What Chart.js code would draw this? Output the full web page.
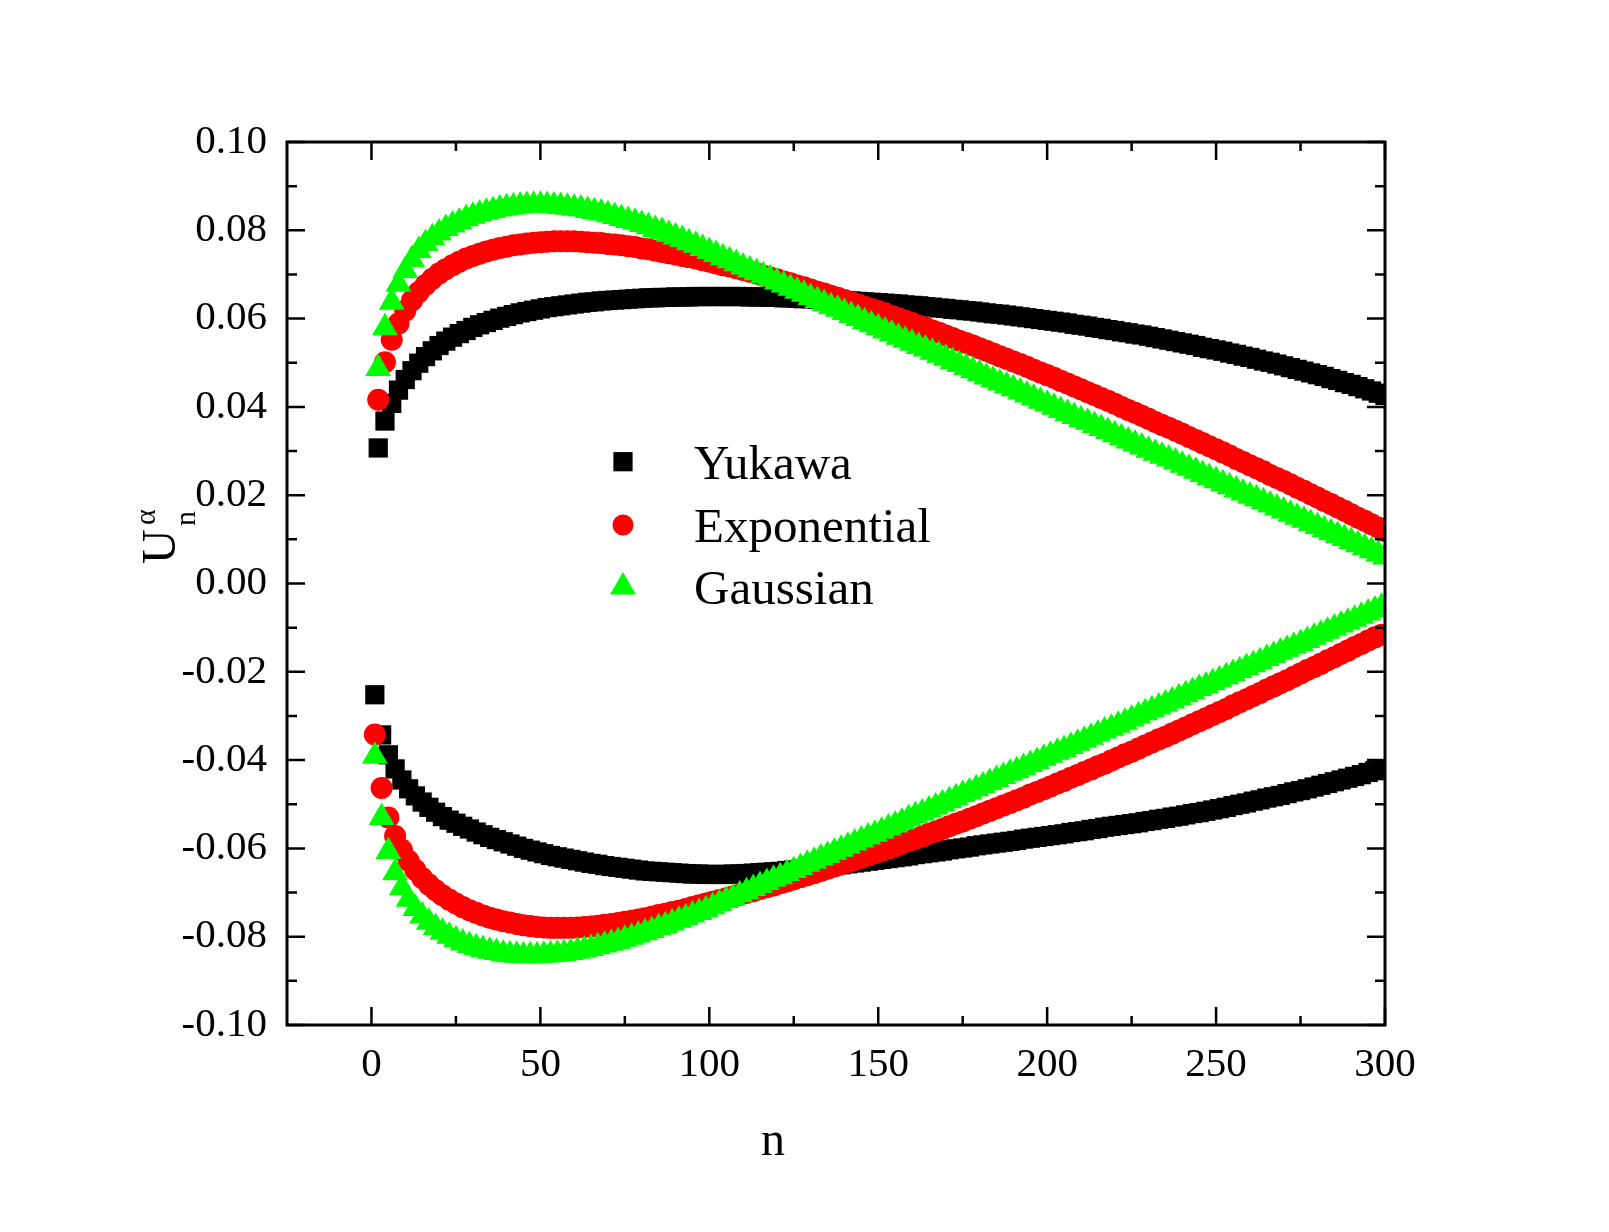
<!DOCTYPE html>
<html>
<head>
<meta charset="utf-8">
<script src="https://cdn.jsdelivr.net/npm/chart.js@4.4.0/dist/chart.umd.min.js"></script>
<style>
  html, body { margin: 0; padding: 0; background: #ffffff; }
  #wrap { width: 1609px; height: 1232px; }
</style>
</head>
<body>
<div id="wrap"><canvas id="c" width="1609" height="1232"></canvas></div>
<script>
// ---------------- data ----------------
const seriesNames = ['Yukawa', 'Exponential', 'Gaussian'];

// upper branch: even n = 2,4,...,300 ; lower branch: odd n = 1,3,...,299
const yukawaUpper = [
0.0307,0.0368,0.0408,0.0438,0.0462,0.0482,0.0499,0.0514,0.0527,0.0539,
0.0549,0.0558,0.0566,0.0573,0.0580,0.0586,0.0591,0.0596,0.0601,0.0605,
0.0609,0.0613,0.0616,0.0619,0.0622,0.0625,0.0627,0.0629,0.0631,0.0633,
0.0635,0.0637,0.0638,0.0640,0.0641,0.0642,0.0643,0.0644,0.0645,0.0646,
0.0647,0.0647,0.0648,0.0648,0.0649,0.0649,0.0649,0.0650,0.0650,0.0650,
0.0650,0.0650,0.0650,0.0650,0.0650,0.0649,0.0649,0.0649,0.0648,0.0648,
0.0647,0.0647,0.0646,0.0645,0.0645,0.0644,0.0643,0.0642,0.0642,0.0641,
0.0640,0.0639,0.0638,0.0637,0.0636,0.0635,0.0634,0.0633,0.0631,0.0630,
0.0629,0.0627,0.0626,0.0624,0.0623,0.0621,0.0620,0.0618,0.0617,0.0615,
0.0613,0.0611,0.0610,0.0608,0.0606,0.0604,0.0602,0.0600,0.0598,0.0596,
0.0594,0.0592,0.0590,0.0587,0.0585,0.0583,0.0580,0.0578,0.0575,0.0573,
0.0570,0.0568,0.0565,0.0563,0.0560,0.0557,0.0554,0.0551,0.0548,0.0545,
0.0542,0.0539,0.0535,0.0532,0.0529,0.0526,0.0522,0.0519,0.0515,0.0512,
0.0508,0.0504,0.0501,0.0497,0.0493,0.0489,0.0485,0.0481,0.0477,0.0473,
0.0469,0.0464,0.0460,0.0455,0.0451,0.0446,0.0441,0.0436,0.0431,0.0426];

const yukawaLower = [
-0.0252,-0.0343,-0.0388,-0.0420,-0.0445,-0.0465,-0.0481,-0.0495,-0.0507,-0.0518,
-0.0528,-0.0536,-0.0543,-0.0550,-0.0556,-0.0563,-0.0569,-0.0575,-0.0580,-0.0585,
-0.0590,-0.0595,-0.0600,-0.0604,-0.0608,-0.0612,-0.0616,-0.0619,-0.0622,-0.0625,
-0.0628,-0.0631,-0.0634,-0.0636,-0.0639,-0.0641,-0.0643,-0.0645,-0.0647,-0.0649,
-0.0651,-0.0652,-0.0653,-0.0654,-0.0655,-0.0656,-0.0657,-0.0658,-0.0658,-0.0659,
-0.0659,-0.0659,-0.0659,-0.0658,-0.0658,-0.0657,-0.0656,-0.0655,-0.0654,-0.0653,
-0.0652,-0.0650,-0.0649,-0.0647,-0.0646,-0.0644,-0.0642,-0.0640,-0.0639,-0.0637,
-0.0635,-0.0633,-0.0631,-0.0629,-0.0627,-0.0625,-0.0623,-0.0621,-0.0619,-0.0617,
-0.0614,-0.0612,-0.0610,-0.0608,-0.0606,-0.0603,-0.0601,-0.0599,-0.0597,-0.0594,
-0.0592,-0.0590,-0.0588,-0.0586,-0.0584,-0.0582,-0.0579,-0.0577,-0.0575,-0.0573,
-0.0571,-0.0569,-0.0567,-0.0564,-0.0562,-0.0560,-0.0557,-0.0555,-0.0552,-0.0550,
-0.0548,-0.0546,-0.0544,-0.0542,-0.0539,-0.0537,-0.0534,-0.0532,-0.0529,-0.0527,
-0.0524,-0.0521,-0.0519,-0.0516,-0.0513,-0.0510,-0.0507,-0.0503,-0.0500,-0.0497,
-0.0493,-0.0490,-0.0486,-0.0483,-0.0480,-0.0476,-0.0472,-0.0469,-0.0465,-0.0461,
-0.0457,-0.0453,-0.0449,-0.0445,-0.0441,-0.0437,-0.0433,-0.0428,-0.0424,-0.0420];

const exponentialUpper = [
0.0416,0.0501,0.0552,0.0589,0.0618,0.0641,0.0660,0.0676,0.0690,0.0702,
0.0712,0.0721,0.0729,0.0736,0.0742,0.0747,0.0752,0.0756,0.0760,0.0763,
0.0766,0.0768,0.0770,0.0772,0.0773,0.0774,0.0775,0.0775,0.0775,0.0775,
0.0774,0.0773,0.0772,0.0771,0.0769,0.0768,0.0766,0.0764,0.0762,0.0759,
0.0757,0.0754,0.0751,0.0748,0.0745,0.0742,0.0739,0.0736,0.0732,0.0729,
0.0725,0.0721,0.0718,0.0714,0.0710,0.0706,0.0702,0.0697,0.0693,0.0689,
0.0684,0.0680,0.0675,0.0671,0.0666,0.0661,0.0657,0.0652,0.0647,0.0642,
0.0637,0.0632,0.0627,0.0622,0.0617,0.0612,0.0606,0.0601,0.0595,0.0590,
0.0584,0.0579,0.0573,0.0568,0.0562,0.0556,0.0550,0.0545,0.0539,0.0533,
0.0527,0.0521,0.0515,0.0509,0.0503,0.0497,0.0491,0.0484,0.0478,0.0472,
0.0466,0.0459,0.0453,0.0446,0.0440,0.0433,0.0427,0.0420,0.0414,0.0407,
0.0400,0.0393,0.0387,0.0380,0.0373,0.0366,0.0359,0.0353,0.0346,0.0339,
0.0332,0.0325,0.0318,0.0311,0.0304,0.0297,0.0290,0.0282,0.0275,0.0268,
0.0261,0.0254,0.0246,0.0239,0.0232,0.0225,0.0217,0.0210,0.0202,0.0195,
0.0187,0.0180,0.0172,0.0165,0.0157,0.0149,0.0142,0.0134,0.0127,0.0119];

const exponentialLower = [
-0.0342,-0.0463,-0.0530,-0.0572,-0.0603,-0.0628,-0.0649,-0.0667,-0.0682,-0.0695,
-0.0706,-0.0716,-0.0725,-0.0733,-0.0740,-0.0746,-0.0752,-0.0757,-0.0761,-0.0765,
-0.0768,-0.0771,-0.0774,-0.0776,-0.0778,-0.0779,-0.0780,-0.0780,-0.0780,-0.0780,
-0.0779,-0.0778,-0.0777,-0.0775,-0.0773,-0.0771,-0.0769,-0.0766,-0.0764,-0.0761,
-0.0758,-0.0755,-0.0751,-0.0748,-0.0744,-0.0741,-0.0737,-0.0733,-0.0729,-0.0725,
-0.0721,-0.0717,-0.0713,-0.0709,-0.0705,-0.0701,-0.0697,-0.0692,-0.0688,-0.0684,
-0.0679,-0.0675,-0.0670,-0.0665,-0.0661,-0.0656,-0.0651,-0.0646,-0.0641,-0.0636,
-0.0631,-0.0626,-0.0621,-0.0616,-0.0611,-0.0606,-0.0600,-0.0595,-0.0589,-0.0584,
-0.0578,-0.0573,-0.0567,-0.0562,-0.0556,-0.0550,-0.0544,-0.0539,-0.0533,-0.0527,
-0.0521,-0.0515,-0.0509,-0.0503,-0.0497,-0.0491,-0.0485,-0.0478,-0.0472,-0.0466,
-0.0460,-0.0453,-0.0447,-0.0440,-0.0434,-0.0427,-0.0421,-0.0414,-0.0408,-0.0401,
-0.0394,-0.0387,-0.0381,-0.0374,-0.0367,-0.0360,-0.0353,-0.0347,-0.0340,-0.0333,
-0.0326,-0.0319,-0.0312,-0.0305,-0.0298,-0.0291,-0.0284,-0.0276,-0.0269,-0.0262,
-0.0255,-0.0248,-0.0240,-0.0233,-0.0226,-0.0219,-0.0211,-0.0204,-0.0196,-0.0189,
-0.0182,-0.0174,-0.0167,-0.0159,-0.0152,-0.0144,-0.0137,-0.0129,-0.0122,-0.0116];

const gaussianUpper = [
0.0487,0.0579,0.0637,0.0678,0.0709,0.0734,0.0754,0.0770,0.0783,0.0794,
0.0804,0.0812,0.0819,0.0826,0.0832,0.0837,0.0841,0.0845,0.0848,0.0851,
0.0853,0.0855,0.0856,0.0857,0.0857,0.0856,0.0855,0.0854,0.0852,0.0850,
0.0848,0.0845,0.0842,0.0839,0.0835,0.0831,0.0827,0.0822,0.0818,0.0813,
0.0808,0.0802,0.0797,0.0791,0.0785,0.0779,0.0772,0.0766,0.0759,0.0752,
0.0745,0.0738,0.0731,0.0724,0.0717,0.0710,0.0704,0.0697,0.0690,0.0683,
0.0676,0.0669,0.0662,0.0655,0.0648,0.0641,0.0634,0.0627,0.0621,0.0614,
0.0607,0.0600,0.0593,0.0586,0.0579,0.0572,0.0565,0.0558,0.0551,0.0544,
0.0537,0.0531,0.0524,0.0517,0.0510,0.0503,0.0496,0.0489,0.0482,0.0475,
0.0468,0.0461,0.0454,0.0448,0.0441,0.0434,0.0427,0.0420,0.0413,0.0406,
0.0399,0.0392,0.0385,0.0378,0.0371,0.0365,0.0358,0.0351,0.0344,0.0337,
0.0330,0.0323,0.0316,0.0309,0.0302,0.0295,0.0288,0.0282,0.0275,0.0268,
0.0261,0.0254,0.0247,0.0240,0.0233,0.0226,0.0219,0.0212,0.0205,0.0198,
0.0192,0.0185,0.0178,0.0171,0.0164,0.0157,0.0150,0.0143,0.0136,0.0129,
0.0122,0.0115,0.0109,0.0102,0.0095,0.0088,0.0081,0.0074,0.0067,0.0060];

const gaussianLower = [
-0.0391,-0.0530,-0.0607,-0.0655,-0.0689,-0.0715,-0.0736,-0.0753,-0.0767,-0.0779,
-0.0790,-0.0799,-0.0807,-0.0814,-0.0820,-0.0825,-0.0829,-0.0833,-0.0836,-0.0839,
-0.0841,-0.0842,-0.0843,-0.0843,-0.0843,-0.0842,-0.0841,-0.0840,-0.0838,-0.0836,
-0.0833,-0.0830,-0.0827,-0.0823,-0.0819,-0.0815,-0.0811,-0.0806,-0.0801,-0.0796,
-0.0791,-0.0786,-0.0780,-0.0775,-0.0769,-0.0763,-0.0757,-0.0751,-0.0745,-0.0739,
-0.0732,-0.0725,-0.0718,-0.0712,-0.0705,-0.0698,-0.0691,-0.0684,-0.0677,-0.0670,
-0.0664,-0.0657,-0.0650,-0.0643,-0.0636,-0.0629,-0.0622,-0.0616,-0.0609,-0.0602,
-0.0595,-0.0588,-0.0581,-0.0574,-0.0568,-0.0561,-0.0554,-0.0547,-0.0540,-0.0533,
-0.0526,-0.0520,-0.0513,-0.0506,-0.0499,-0.0492,-0.0485,-0.0478,-0.0472,-0.0465,
-0.0458,-0.0451,-0.0444,-0.0437,-0.0430,-0.0424,-0.0417,-0.0410,-0.0403,-0.0396,
-0.0389,-0.0382,-0.0376,-0.0369,-0.0362,-0.0355,-0.0348,-0.0341,-0.0334,-0.0328,
-0.0321,-0.0314,-0.0307,-0.0300,-0.0293,-0.0286,-0.0280,-0.0273,-0.0266,-0.0259,
-0.0252,-0.0245,-0.0238,-0.0232,-0.0225,-0.0218,-0.0211,-0.0204,-0.0197,-0.0190,
-0.0184,-0.0177,-0.0170,-0.0163,-0.0156,-0.0149,-0.0142,-0.0136,-0.0129,-0.0122,
-0.0115,-0.0108,-0.0101,-0.0094,-0.0088,-0.0081,-0.0074,-0.0067,-0.0060,-0.0053];

// site indices for the two branches
const nUpper = yukawaUpper.map((_, i) => 2 * (i + 1));
const nLower = yukawaLower.map((_, i) => 2 * i + 1);

// axes
const xMajorTicks = [0, 50, 100, 150, 200, 250, 300];
const xMinorTicks = [25, 75, 125, 175, 225, 275];
const yMajorTicks = [-0.10, -0.08, -0.06, -0.04, -0.02, 0.00, 0.02, 0.04, 0.06, 0.08, 0.10];
const yMinorTicks = [-0.09, -0.07, -0.05, -0.03, -0.01, 0.01, 0.03, 0.05, 0.07, 0.09];
const xRange = [-25, 300];
const yRange = [-0.10, 0.10];
const xTitle = 'n';

// ---------------- build ----------------
function buildPoints(upper, lower) {
  const pts = [];
  lower.forEach((v, i) => pts.push({ x: nLower[i], y: v }));
  upper.forEach((v, i) => pts.push({ x: nUpper[i], y: v }));
  return pts;
}

const FONT = '"Liberation Serif", "Times New Roman", Times, serif';

const styles = [
  { color: '#000000', pointStyle: 'rect', radius: 13.6, order: 3 },
  { color: '#ff0000', pointStyle: 'circle', radius: 11, order: 2 },
  { color: '#00ff00', pointStyle: 'triangle', radius: 15, order: 1 }
];
const seriesData = [
  buildPoints(yukawaUpper, yukawaLower),
  buildPoints(exponentialUpper, exponentialLower),
  buildPoints(gaussianUpper, gaussianLower)
];

const datasets = seriesNames.map((name, i) => ({
  label: name,
  data: seriesData[i],
  showLine: false,
  pointStyle: styles[i].pointStyle,
  pointRadius: styles[i].radius,
  pointHoverRadius: styles[i].radius,
  backgroundColor: styles[i].color,
  borderColor: styles[i].color,
  borderWidth: 0,
  pointBorderWidth: 0,
  order: styles[i].order,
  clip: 0
}));

function drawMarker(ctx, style, x, y, r, color) {
  ctx.save();
  ctx.fillStyle = color;
  ctx.beginPath();
  if (style === 'rect') {
    const s = Math.SQRT1_2 * r;
    ctx.rect(x - s, y - s, 2 * s, 2 * s);
  } else if (style === 'circle') {
    ctx.arc(x, y, r, 0, Math.PI * 2);
  } else {
    ctx.moveTo(x, y - r);
    ctx.lineTo(x + r * Math.sin(Math.PI * 2 / 3), y + r * 0.5);
    ctx.lineTo(x - r * Math.sin(Math.PI * 2 / 3), y + r * 0.5);
    ctx.closePath();
  }
  ctx.fill();
  ctx.restore();
}

const framePlugin = {
  id: 'frameAndDecor',
  afterDatasetsDraw(chart) {
    const ctx = chart.ctx;
    const a = chart.chartArea;
    const xs = chart.scales.x, ys = chart.scales.y;
    ctx.save();
    ctx.strokeStyle = '#000';
    ctx.lineCap = 'butt';
    // ticks (inward, all four sides)
    ctx.lineWidth = 2.5;
    const tick = (vals, len, isX) => {
      vals.forEach(v => {
        ctx.beginPath();
        if (isX) {
          const px = xs.getPixelForValue(v);
          ctx.moveTo(px, a.bottom); ctx.lineTo(px, a.bottom - len);
          ctx.moveTo(px, a.top); ctx.lineTo(px, a.top + len);
        } else {
          const py = ys.getPixelForValue(v);
          ctx.moveTo(a.left, py); ctx.lineTo(a.left + len, py);
          ctx.moveTo(a.right, py); ctx.lineTo(a.right - len, py);
        }
        ctx.stroke();
      });
    };
    tick(xMajorTicks, 18, true);
    tick(xMinorTicks, 9, true);
    tick(yMajorTicks, 18, false);
    tick(yMinorTicks, 10, false);
    // frame
    ctx.lineWidth = 3;
    ctx.strokeRect(a.left, a.top, a.right - a.left, a.bottom - a.top);
    ctx.restore();

    // legend
    ctx.save();
    const legX = 623, legTextX = 694;
    const legRows = [461.7, 525, 587];
    const legBase = [479, 541.5, 604];
    seriesNames.forEach((name, i) => {
      const r = styles[i].pointStyle === 'rect' ? 13.6 : (styles[i].pointStyle === 'circle' ? 10.5 : 15);
      drawMarker(ctx, styles[i].pointStyle, legX, legRows[i], r, styles[i].color);
      ctx.fillStyle = '#000';
      ctx.font = '49px ' + FONT;
      ctx.textAlign = 'left';
      ctx.textBaseline = 'alphabetic';
      ctx.fillText(name, legTextX, legBase[i]);
    });
    ctx.restore();

    // x title
    ctx.save();
    ctx.fillStyle = '#000';
    ctx.font = '48px ' + FONT;
    ctx.textAlign = 'center';
    ctx.textBaseline = 'alphabetic';
    ctx.fillText(xTitle, 773, 1155);
    ctx.restore();

    // y title: U with subscript n and superscript alpha, rotated
    ctx.save();
    ctx.fillStyle = '#000';
    ctx.translate(175, 564);
    ctx.rotate(-Math.PI / 2);
    ctx.textAlign = 'left';
    ctx.textBaseline = 'alphabetic';
    ctx.font = '48px ' + FONT;
    ctx.fillText('U', 0, 0);
    ctx.font = '30px ' + FONT;
    ctx.fillText('n', 38, 20);
    ctx.fillText('\u03B1', 39, -20);
    ctx.restore();
  }
};

new Chart(document.getElementById('c').getContext('2d'), {
  type: 'scatter',
  data: { datasets },
  options: {
    responsive: false,
    animation: false,
    events: [],
    layout: { padding: { left: 0, top: 142, right: 224, bottom: 0 } },
    plugins: { legend: { display: false }, tooltip: { enabled: false }, title: { display: false } },
    scales: {
      x: {
        type: 'linear',
        position: 'bottom',
        min: xRange[0],
        max: xRange[1],
        afterBuildTicks: s => { s.ticks = xMajorTicks.map(v => ({ value: v })); },
        afterFit: s => { s.height = 207; },
        grid: { display: false, drawTicks: false },
        border: { display: false },
        ticks: {
          color: '#000',
          font: { family: FONT, size: 41 },
          padding: 16,
          maxRotation: 0,
          autoSkip: false,
          callback: v => String(v)
        }
      },
      y: {
        type: 'linear',
        position: 'left',
        min: yRange[0],
        max: yRange[1],
        afterBuildTicks: s => { s.ticks = yMajorTicks.map(v => ({ value: v })); },
        afterFit: s => { s.width = 287; },
        grid: { display: false, drawTicks: false },
        border: { display: false },
        ticks: {
          color: '#000',
          font: { family: FONT, size: 41 },
          padding: 20,
          autoSkip: false,
          callback: v => Number(v).toFixed(2)
        }
      }
    }
  },
  plugins: [framePlugin]
});
</script>
</body>
</html>
